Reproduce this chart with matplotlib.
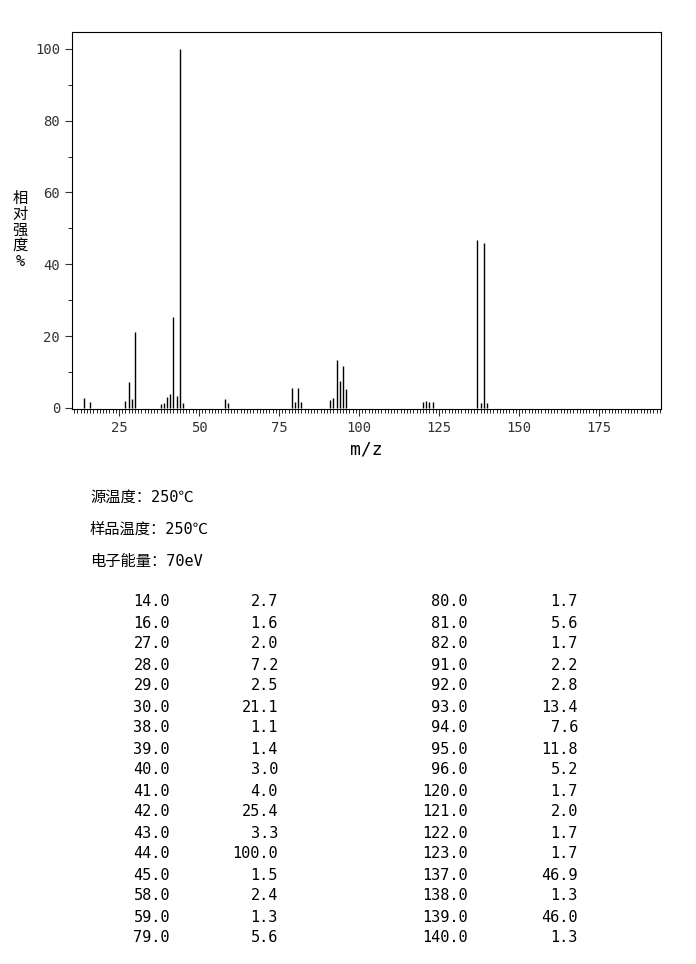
import matplotlib.pyplot as plt
from matplotlib.ticker import MultipleLocator

plt.rcParams['font.family'] = ['DejaVu Sans Mono', 'Noto Sans CJK SC']

mz = [14, 16, 27, 28, 29, 30, 38, 39, 40, 41, 42, 43, 44, 45, 58, 59, 79,
      80, 81, 82, 91, 92, 93, 94, 95, 96, 120, 121, 122, 123, 137, 138, 139, 140]
intensity = [2.7, 1.6, 2.0, 7.2, 2.5, 21.1, 1.1, 1.4, 3.0, 4.0, 25.4, 3.3, 100.0, 1.5, 2.4, 1.3, 5.6,
             1.7, 5.6, 1.7, 2.2, 2.8, 13.4, 7.6, 11.8, 5.2, 1.7, 2.0, 1.7, 1.7, 46.9, 1.3, 46.0, 1.3]
info = ["源温度：250℃", "样品温度：250℃", "电子能量：70eV"]

W, H = 696, 964
fig = plt.figure(figsize=(W / 100, H / 100), dpi=100)
ax = fig.add_axes([72 / W, 1 - 409 / H, (661 - 72) / W, (409 - 32) / H])
ax.vlines(mz, 0, intensity, color='black', linewidth=1)
ax.set_xlim(10.3, 194.4)
ax.set_ylim(-0.3, 104.7)
ax.xaxis.set_major_locator(MultipleLocator(25))
ax.xaxis.set_minor_locator(MultipleLocator(1))
ax.yaxis.set_major_locator(MultipleLocator(20))
ax.yaxis.set_minor_locator(MultipleLocator(10))
ax.tick_params(which='major', length=5, labelsize=10, colors='#333333')
ax.tick_params(which='minor', length=3)
for s in ax.spines.values():
    s.set_linewidth(0.8)
ax.set_xlabel('m/z', fontsize=13)
fig.text(20 / W, 1 - 230 / H, "相\n对\n强\n度\n%", ha='center', va='center',
         fontsize=11, linespacing=1.05)

for i, t in enumerate(info):
    fig.text(90 / W, 1 - (497 + 32 * i) / H, t, fontsize=11, va='center')

half = 17
for i, (m, v) in enumerate(zip(mz, intensity)):
    col = i // half
    row = i % half
    y = 1 - (602 + 21 * row) / H
    xm = (170 if col == 0 else 468) / W
    xv = (278 if col == 0 else 578) / W
    fig.text(xm, y, f"{m:.1f}", ha='right', va='center', fontsize=11)
    fig.text(xv, y, f"{v:.1f}", ha='right', va='center', fontsize=11)

fig.savefig('out.png', dpi=100)
